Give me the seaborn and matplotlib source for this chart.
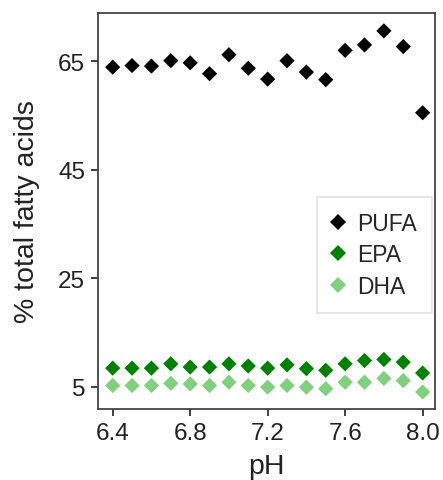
import pandas as pd
import matplotlib
matplotlib.use('Agg')
import matplotlib.pyplot as plt
import seaborn as sns

ph = [6.4, 6.5, 6.6, 6.7, 6.8, 6.9, 7.0, 7.1, 7.2, 7.3, 7.4, 7.5, 7.6, 7.7, 7.8, 7.9, 8.0]
pufa = [63.9, 64.2, 64.1, 65.1, 64.7, 62.7, 66.2, 63.7, 61.7, 65.1, 63.0, 61.6, 67.0, 68.0, 70.6, 67.7, 55.5]
epa = [8.4, 8.4, 8.4, 9.2, 8.6, 8.6, 9.2, 8.8, 8.4, 9.0, 8.3, 8.0, 9.2, 9.8, 10.0, 9.5, 7.5]
dha = [5.2, 5.2, 5.2, 5.6, 5.5, 5.2, 5.8, 5.2, 4.9, 5.2, 4.9, 4.6, 5.8, 5.8, 6.5, 6.1, 4.0]

series = ['PUFA', 'EPA', 'DHA']
colors = ['#000000', '#008000', '#80d080']

df = pd.concat([
    pd.DataFrame({'pH': ph, 'value': vals, 'fa': name})
    for name, vals in zip(series, [pufa, epa, dha])
])

sns.set_style('white')
plt.rcParams['font.family'] = ['Liberation Sans', 'DejaVu Sans']

fig = plt.figure(figsize=(4.43, 4.81), dpi=100)
ax = fig.add_axes([0.222, 0.148, 0.760, 0.823])
sns.scatterplot(data=df, x='pH', y='value', hue='fa', hue_order=series,
                palette=dict(zip(series, colors)), marker='D', s=60,
                linewidth=0, ax=ax)

ax.set_xlim(6.326, 8.064)
ax.set_ylim(0.9, 73.9)
ax.set_xticks([6.4, 6.8, 7.2, 7.6, 8.0])
ax.set_yticks([5, 25, 45, 65])
ax.set_xlabel('pH', fontsize=20.5, color='#222222', labelpad=6.5)
ax.set_ylabel('% total fatty acids', fontsize=20.5, color='#222222', labelpad=13)
ax.tick_params(axis='both', labelsize=17.5, labelcolor='#222222', color='#333333',
               length=5, width=1.3, direction='out', bottom=True, left=True, pad=4.5)
for sp in ax.spines.values():
    sp.set_color('#444444')
    sp.set_linewidth(1.3)

leg = ax.legend(title=None, loc='upper right', bbox_to_anchor=(0.991, 0.535),
                borderaxespad=0, fontsize=16.5, frameon=True, fancybox=False,
                framealpha=1, edgecolor='#e2e2e2', handlelength=0.5,
                handletextpad=0.6, labelspacing=0.37, borderpad=0.65)
leg.get_frame().set_linewidth(1.2)

fig.savefig('out.png', dpi=100)
